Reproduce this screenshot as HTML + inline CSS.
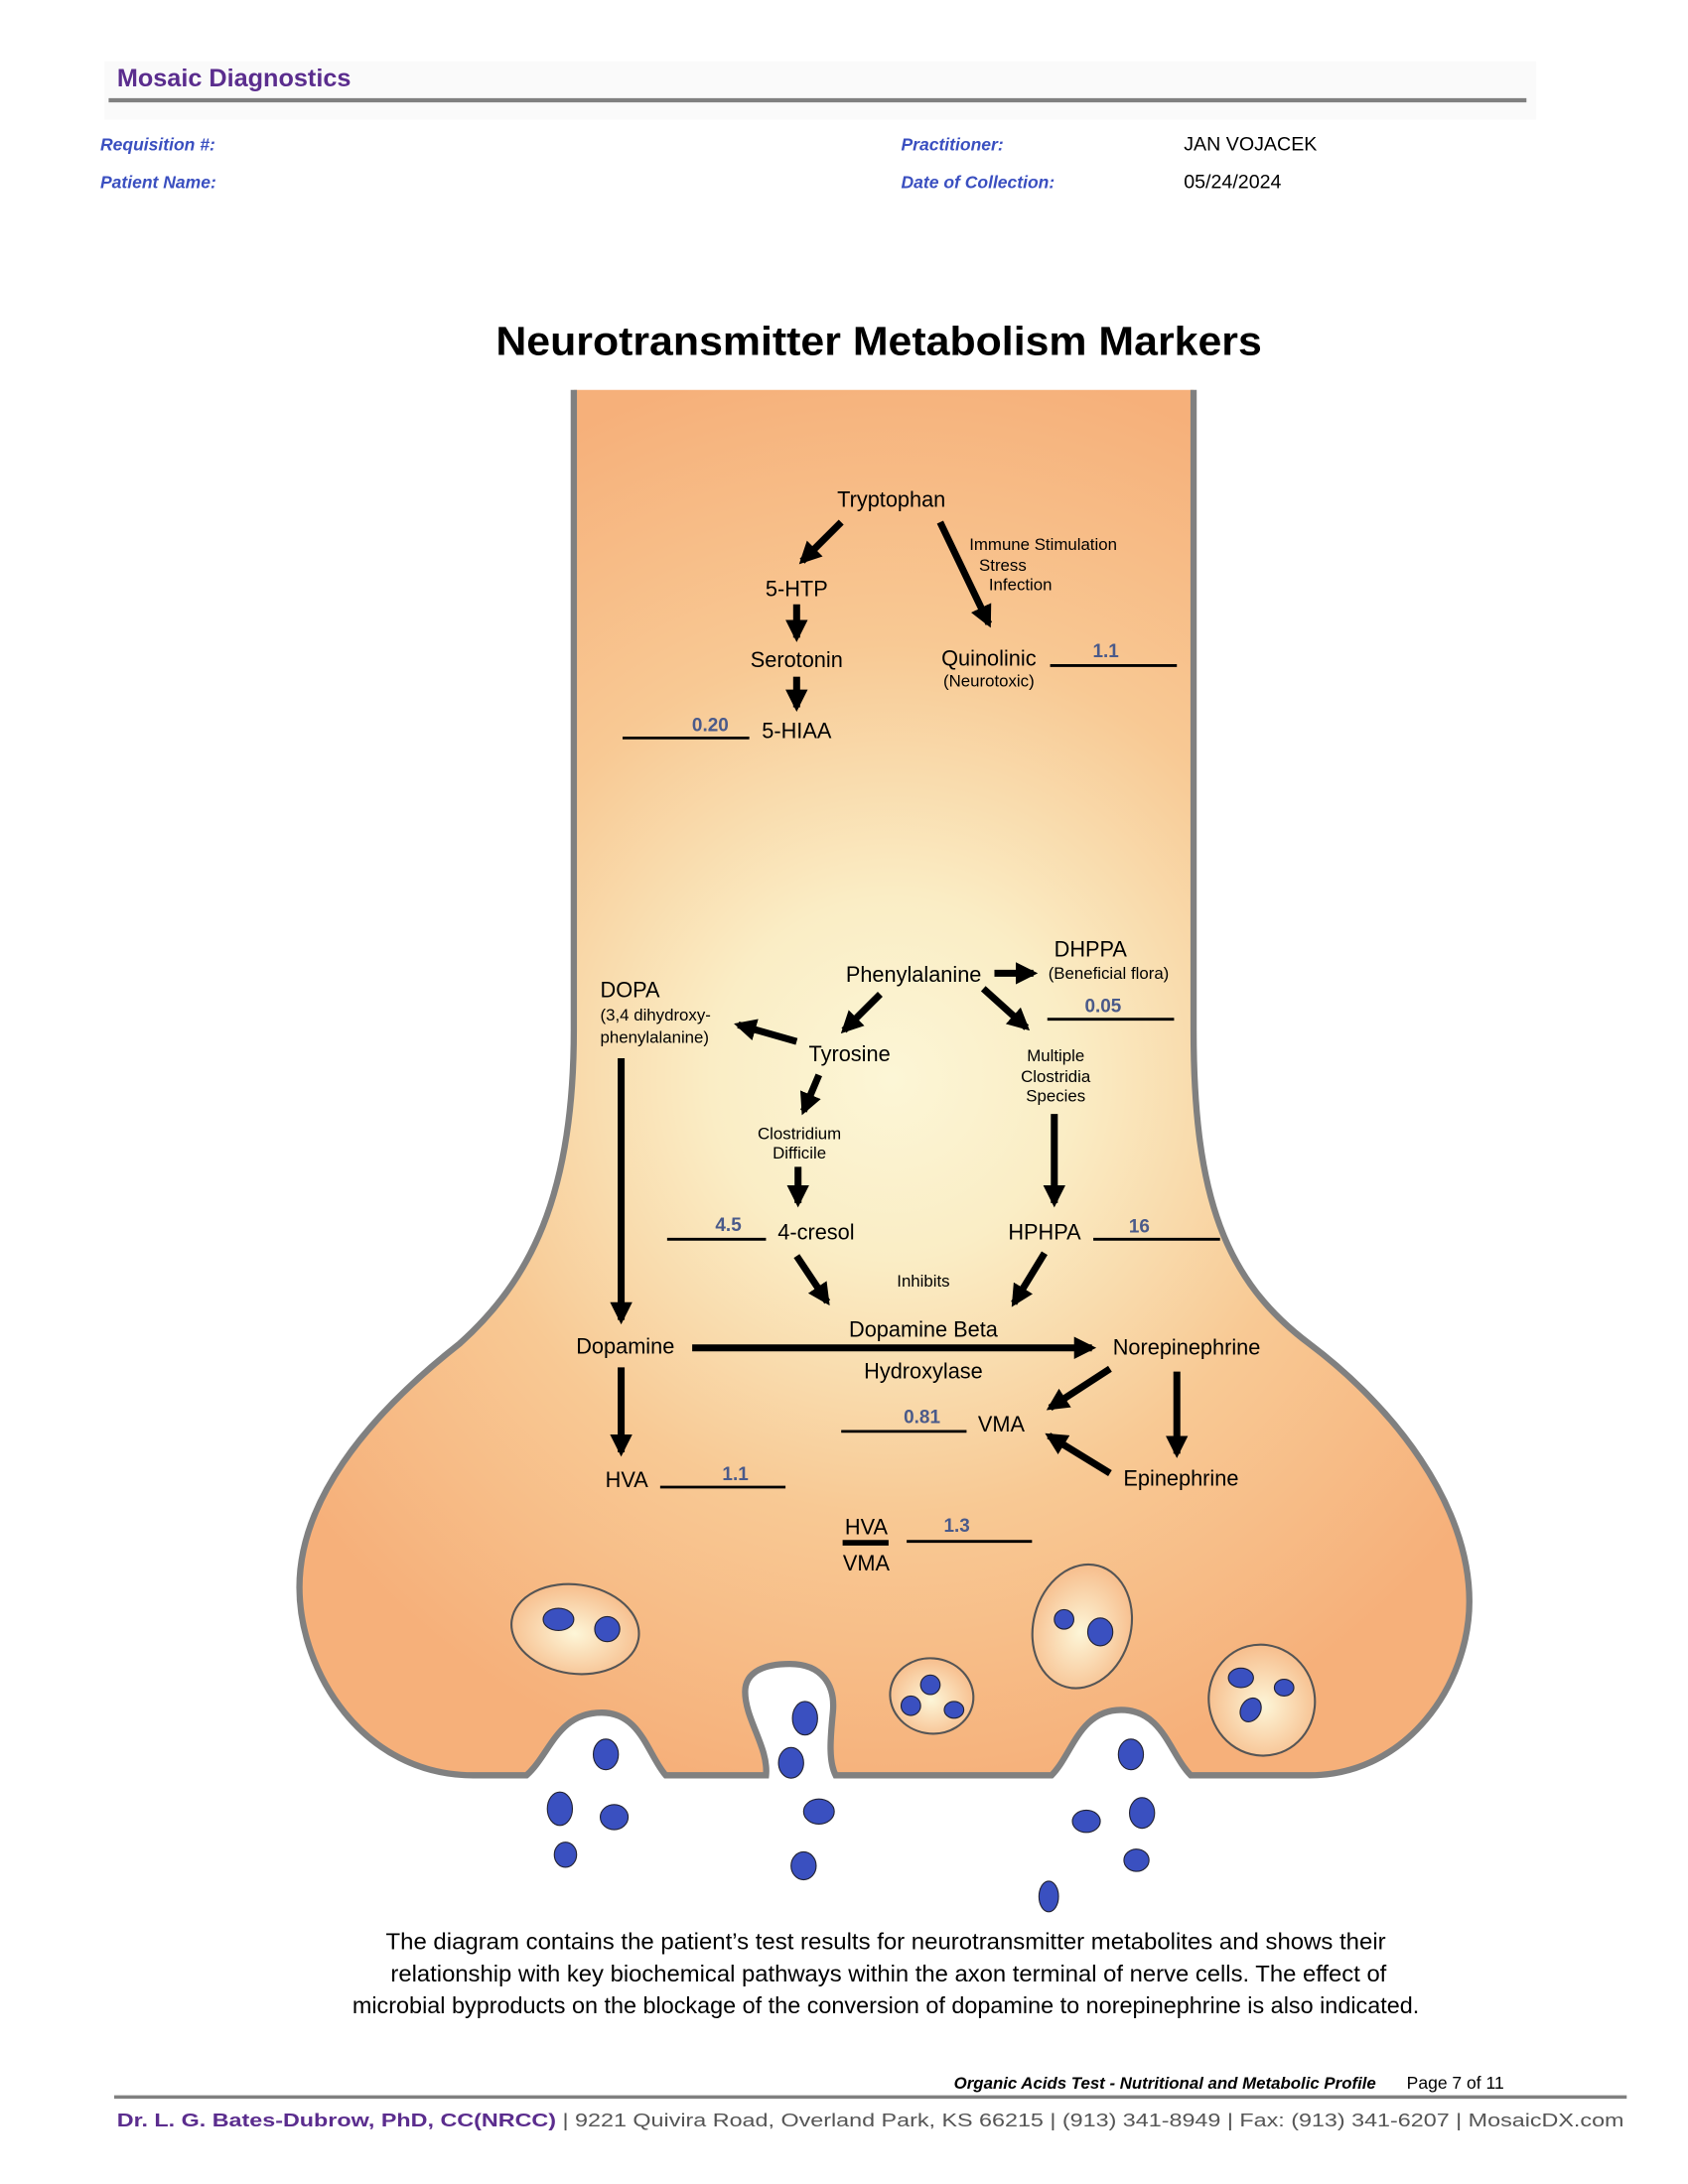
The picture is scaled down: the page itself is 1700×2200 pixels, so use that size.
<!DOCTYPE html>
<html><head><meta charset="utf-8"><style>
html,body{margin:0;padding:0;background:#fff}
svg{display:block}
text{font-family:"Liberation Sans",sans-serif}
</style></head><body>
<svg width="1700" height="2200" viewBox="0 0 1212 1568.5" preserveAspectRatio="none" xmlns="http://www.w3.org/2000/svg">
<defs>
<radialGradient id="bg" cx="640" cy="775" r="520" gradientUnits="userSpaceOnUse">
<stop offset="0" stop-color="#fcf6d6"/><stop offset="0.25" stop-color="#faedc5"/><stop offset="0.6" stop-color="#f8c994"/><stop offset="1" stop-color="#f6b07a"/>
</radialGradient>
<radialGradient id="ves" cx="0.5" cy="0.55" r="0.6">
<stop offset="0" stop-color="#fdf6d8"/><stop offset="1" stop-color="#f6b885"/>
</radialGradient>
<marker id="ah" viewBox="0 0 10 10" refX="8" refY="5" markerWidth="3.2" markerHeight="3.2" orient="auto" markerUnits="strokeWidth">
<path d="M0,0 L10,5 L0,10 Z" fill="#000"/>
</marker>
</defs>

<!-- header -->
<rect x="75" y="44" width="1028" height="42" fill="#fafafa"/>
<text x="84" y="62" font-size="18" font-weight="bold" fill="#5b2d8e">Mosaic Diagnostics</text>
<line x1="78" y1="72" x2="1096" y2="72" stroke="#808080" stroke-width="3"/>
<g font-size="12.5" font-weight="bold" font-style="italic" fill="#3a4fc0">
<text x="72" y="108">Requisition #:</text>
<text x="72" y="135">Patient Name:</text>
<text x="647" y="108">Practitioner:</text>
<text x="647" y="135">Date of Collection:</text>
</g>
<text x="850" y="108" font-size="14">JAN VOJACEK</text>
<text x="850" y="135" font-size="14">05/24/2024</text>

<text x="631" y="255" font-size="29" font-weight="bold" text-anchor="middle" textLength="550" lengthAdjust="spacingAndGlyphs">Neurotransmitter Metabolism Markers</text>

<!-- neuron -->
<path d="M412,280 L412,740 C412,860 380,920 330,965 C260,1020 215,1080 215,1140 C215,1200 260,1275 340,1275 L378,1275 C395,1260 400,1230 432,1230 C460,1230 465,1260 478,1275 L550,1275 C552,1255 535,1235 535,1215 C535,1200 550,1195 567,1195 C590,1195 600,1210 598,1230 C596,1250 595,1265 600,1275 L755,1275 C770,1260 775,1228 805,1228 C835,1228 840,1260 855,1275 L940,1275 C1010,1275 1055,1210 1055,1150 C1055,1080 1000,1010 940,965 C880,920 857,860 857,740 L857,280 Z" fill="url(#bg)" stroke="none"/>
<path d="M412,280 L412,740 C412,860 380,920 330,965 C260,1020 215,1080 215,1140 C215,1200 260,1275 340,1275 L378,1275 C395,1260 400,1230 432,1230 C460,1230 465,1260 478,1275 L550,1275 C552,1255 535,1235 535,1215 C535,1200 550,1195 567,1195 C590,1195 600,1210 598,1230 C596,1250 595,1265 600,1275 L755,1275 C770,1260 775,1228 805,1228 C835,1228 840,1260 855,1275 L940,1275 C1010,1275 1055,1210 1055,1150 C1055,1080 1000,1010 940,965 C880,920 857,860 857,740 L857,280" fill="none" stroke="#808080" stroke-width="4.5"/>

<!-- vesicles -->
<g stroke="#555" stroke-width="1.5">
<ellipse cx="413" cy="1170" rx="46" ry="32" fill="url(#ves)" transform="rotate(8 413 1170)"/>
<ellipse cx="777" cy="1168" rx="35" ry="45" fill="url(#ves)" transform="rotate(15 777 1168)"/>
<ellipse cx="669" cy="1218" rx="30" ry="27" fill="url(#ves)" transform="rotate(10 669 1218)"/>
<ellipse cx="906" cy="1221" rx="38" ry="40" fill="url(#ves)" transform="rotate(-15 906 1221)"/>
</g>
<g fill="#3a50c0" stroke="#223" stroke-width="0.8">
<ellipse cx="401" cy="1163" rx="11" ry="8"/><ellipse cx="436" cy="1170" rx="9" ry="9"/>
<ellipse cx="764" cy="1163" rx="7" ry="7"/><ellipse cx="790" cy="1172" rx="9" ry="10"/>
<ellipse cx="668" cy="1210" rx="7" ry="7"/><ellipse cx="654" cy="1225" rx="7" ry="7"/><ellipse cx="685" cy="1228" rx="7" ry="6"/>
<ellipse cx="891" cy="1205" rx="9" ry="7"/><ellipse cx="922" cy="1212" rx="7" ry="6"/><ellipse cx="898" cy="1228" rx="7" ry="9" transform="rotate(30 898 1228)"/>
<ellipse cx="435" cy="1260" rx="9" ry="11"/><ellipse cx="578" cy="1234" rx="9" ry="12"/><ellipse cx="568" cy="1266" rx="9" ry="11"/><ellipse cx="812" cy="1260" rx="9" ry="11"/>
<ellipse cx="402" cy="1299" rx="9" ry="12"/><ellipse cx="441" cy="1305" rx="10" ry="9"/><ellipse cx="406" cy="1332" rx="8" ry="9"/>
<ellipse cx="588" cy="1301" rx="11" ry="9"/><ellipse cx="577" cy="1340" rx="9" ry="10"/>
<ellipse cx="780" cy="1308" rx="10" ry="8"/><ellipse cx="820" cy="1302" rx="9" ry="11"/><ellipse cx="816" cy="1336" rx="9" ry="8"/><ellipse cx="753" cy="1362" rx="7" ry="11"/>
</g>

<!-- arrows -->
<g stroke="#000" stroke-width="5" marker-end="url(#ah)" fill="none">
<line x1="604" y1="375" x2="576" y2="403"/>
<line x1="675" y1="375" x2="710" y2="448"/>
<line x1="572" y1="434" x2="572" y2="458"/>
<line x1="572" y1="486" x2="572" y2="508"/>
<line x1="714" y1="699" x2="742" y2="699"/>
<line x1="632" y1="714" x2="606" y2="740"/>
<line x1="706" y1="710" x2="737" y2="738"/>
<line x1="572" y1="748" x2="530" y2="736"/>
<line x1="588" y1="772" x2="577" y2="798"/>
<line x1="573" y1="838" x2="573" y2="864"/>
<line x1="757" y1="800" x2="757" y2="864"/>
<line x1="572" y1="902" x2="594" y2="935"/>
<line x1="750" y1="900" x2="728" y2="936"/>
<line x1="446" y1="760" x2="446" y2="948"/>
<line x1="497" y1="968" x2="784" y2="968"/>
<line x1="446" y1="982" x2="446" y2="1043"/>
<line x1="797" y1="983" x2="754" y2="1011"/>
<line x1="845" y1="985" x2="845" y2="1044"/>
<line x1="797" y1="1058" x2="753" y2="1031"/>
</g>

<!-- labels -->
<g font-size="15.5" fill="#000">
<text x="640" y="364" text-anchor="middle">Tryptophan</text>
<text x="572" y="428" text-anchor="middle">5-HTP</text>
<text x="572" y="479" text-anchor="middle">Serotonin</text>
<text x="572" y="530" text-anchor="middle">5-HIAA</text>
<text x="710" y="478" text-anchor="middle">Quinolinic</text>
<text x="656" y="705" text-anchor="middle">Phenylalanine</text>
<text x="783" y="687" text-anchor="middle">DHPPA</text>
<text x="431" y="716">DOPA</text>
<text x="610" y="762" text-anchor="middle">Tyrosine</text>
<text x="586" y="890" text-anchor="middle">4-cresol</text>
<text x="750" y="890" text-anchor="middle">HPHPA</text>
<text x="449" y="972" text-anchor="middle">Dopamine</text>
<text x="663" y="960" text-anchor="middle">Dopamine Beta</text>
<text x="663" y="990" text-anchor="middle">Hydroxylase</text>
<text x="852" y="973" text-anchor="middle">Norepinephrine</text>
<text x="719" y="1028" text-anchor="middle">VMA</text>
<text x="848" y="1067" text-anchor="middle">Epinephrine</text>
<text x="450" y="1068" text-anchor="middle">HVA</text>
<text x="622" y="1102" text-anchor="middle">HVA</text>
<text x="622" y="1128" text-anchor="middle">VMA</text>
</g>
<g font-size="12" fill="#000">
<text x="696" y="395">Immune Stimulation</text>
<text x="703" y="410">Stress</text>
<text x="710" y="424">Infection</text>
<text x="710" y="493" text-anchor="middle">(Neurotoxic)</text>
<text x="796" y="703" text-anchor="middle">(Beneficial flora)</text>
<text x="431" y="733">(3,4 dihydroxy-</text>
<text x="431" y="749">phenylalanine)</text>
<text x="758" y="762" text-anchor="middle">Multiple</text>
<text x="758" y="777" text-anchor="middle">Clostridia</text>
<text x="758" y="791" text-anchor="middle">Species</text>
<text x="574" y="818" text-anchor="middle">Clostridium</text>
<text x="574" y="832" text-anchor="middle">Difficile</text>
<text x="663" y="924" text-anchor="middle">Inhibits</text>
</g>

<!-- value lines -->
<g stroke="#000" stroke-width="2">
<line x1="447" y1="530" x2="538" y2="530"/>
<line x1="754" y1="478" x2="845" y2="478"/>
<line x1="752" y1="732" x2="843" y2="732"/>
<line x1="479" y1="890" x2="550" y2="890"/>
<line x1="785" y1="890" x2="876" y2="890"/>
<line x1="604" y1="1028" x2="694" y2="1028"/>
<line x1="474" y1="1068" x2="564" y2="1068"/>
<line x1="651" y1="1107" x2="741" y2="1107"/>
</g>
<line x1="605" y1="1108" x2="638" y2="1108" stroke="#000" stroke-width="4"/>
<g font-size="13.5" font-weight="bold" fill="#4a5a8a" text-anchor="middle">
<text x="510" y="525">0.20</text>
<text x="794" y="472">1.1</text>
<text x="792" y="727">0.05</text>
<text x="523" y="884">4.5</text>
<text x="818" y="885">16</text>
<text x="662" y="1022">0.81</text>
<text x="528" y="1063">1.1</text>
<text x="687" y="1100">1.3</text>
</g>

<!-- caption -->
<g font-size="16.5" text-anchor="middle" lengthAdjust="spacingAndGlyphs">
<text x="636" y="1400" textLength="718" lengthAdjust="spacingAndGlyphs">The diagram contains the patient’s test results for neurotransmitter metabolites and shows their</text>
<text x="638" y="1423" textLength="715" lengthAdjust="spacingAndGlyphs">relationship with key biochemical pathways within the axon terminal of nerve cells. The effect of</text>
<text x="636" y="1446" textLength="766" lengthAdjust="spacingAndGlyphs">microbial byproducts on the blockage of the conversion of dopamine to norepinephrine is also indicated.</text>
</g>

<!-- footer -->
<text x="988" y="1500" font-size="12" font-weight="bold" font-style="italic" text-anchor="end">Organic Acids Test - Nutritional and Metabolic Profile</text>
<text x="1010" y="1500" font-size="12.5">Page 7 of 11</text>
<line x1="82" y1="1506" x2="1168" y2="1506" stroke="#808080" stroke-width="2.5"/>
<text x="84" y="1527" font-size="13" fill="#5b2d8e" textLength="1082" lengthAdjust="spacingAndGlyphs"><tspan font-weight="bold">Dr. L. G. Bates-Dubrow, PhD, CC(NRCC)</tspan><tspan fill="#555"> | 9221 Quivira Road, Overland Park, KS 66215  |  (913) 341-8949  |  Fax: (913) 341-6207 | MosaicDX.com</tspan></text>
</svg>
</body></html>
